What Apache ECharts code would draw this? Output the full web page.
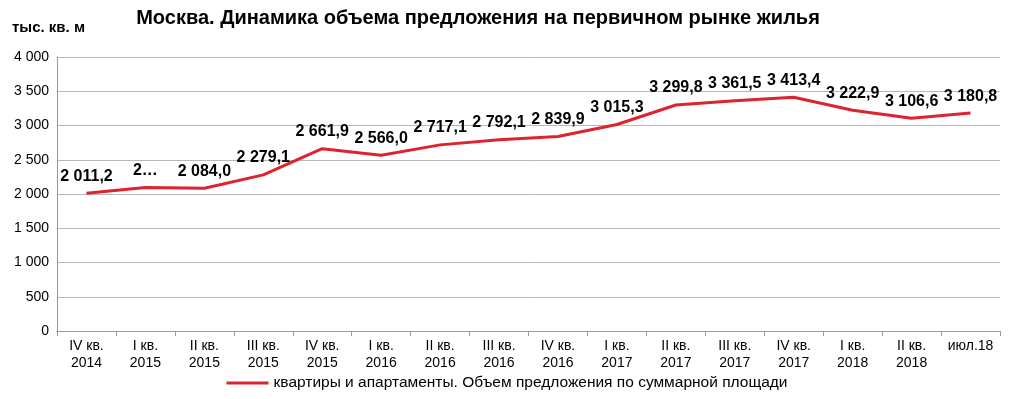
<!DOCTYPE html>
<html lang="ru">
<head>
	<meta charset="UTF-8">
	<title>Москва. Динамика объема предложения</title>
	<script src="https://cdn.jsdelivr.net/npm/echarts@6/dist/echarts.min.js"></script>
	<style>
		html, body { margin: 0; padding: 0; background: #fff; }
	</style>
</head>
<body>
	<div id="chart" style="width:1014px;height:399px;"></div>
<script type="text/javascript">
	// кварталы
	let categories = [
		'IV кв.\n2014', 'I кв.\n2015', 'II кв.\n2015', 'III кв.\n2015', 'IV кв.\n2015',
		'I кв.\n2016', 'II кв.\n2016', 'III кв.\n2016', 'IV кв.\n2016',
		'I кв.\n2017', 'II кв.\n2017', 'III кв.\n2017', 'IV кв.\n2017',
		'I кв.\n2018', 'II кв.\n2018', 'июл.18'
	];
	// тыс. кв. м
	let supply = [2011.2, 2095.0, 2084.0, 2279.1, 2661.9, 2566.0, 2717.1, 2792.1, 2839.9,
		3015.3, 3299.8, 3361.5, 3413.4, 3222.9, 3106.6, 3180.8];
	// подписи, которые на картинке обрезаны
	let cutLabels = { 1: '2…' };
	let yTicks = [0, 500, 1000, 1500, 2000, 2500, 3000, 3500, 4000];

	function fmt(v, dec) {
		let s = v.toFixed(dec);
		let parts = s.split('.');
		let int = parts[0].replace(/\B(?=(\d{3})+(?!\d))/g, ' ');
		return parts.length > 1 ? int + ',' + parts[1] : int;
	}

	let myChart = echarts.init(document.getElementById('chart'));
	let font = 'Liberation Sans, Arial, sans-serif';
	let red = '#dd2330';

	myChart.setOption({
		animation: false,
		textStyle: { fontFamily: font },
		title: {
			text: 'Москва. Динамика объема предложения на первичном рынке жилья',
			left: 473,
			textAlign: 'center',
			top: 3,
			textStyle: { fontSize: 20, fontWeight: 'bold', color: '#000', fontFamily: font }
		},
		legend: {
			bottom: 3,
			left: 'center',
			itemWidth: 42,
			itemHeight: 3,
			icon: 'rect',
			itemGap: 5,
			textStyle: { fontSize: 15.5, color: '#000', fontFamily: font },
			data: ['квартиры и апартаменты. Объем предложения по суммарной площади']
		},
		grid: { left: 57, right: 14, top: 57, bottom: 68, containLabel: false },
		xAxis: {
			type: 'category',
			data: categories,
			boundaryGap: true,
			axisLine: { lineStyle: { color: '#999' } },
			axisTick: { show: true, length: 5, lineStyle: { color: '#999' } },
			axisLabel: { fontSize: 14, color: '#000', lineHeight: 17, margin: 7, interval: 0, fontFamily: font }
		},
		yAxis: {
			type: 'value',
			min: yTicks[0],
			max: yTicks[yTicks.length - 1],
			interval: 500,
			name: 'тыс. кв. м',
			nameLocation: 'end',
			nameGap: 22,
			nameTextStyle: { fontSize: 15, fontWeight: 'bold', color: '#000', align: 'left', padding: [0, 0, 0, -45], fontFamily: font },
			axisLine: { show: true, lineStyle: { color: '#999' } },
			axisTick: { show: false },
			splitLine: { lineStyle: { color: '#b8b8b8' } },
			axisLabel: { fontSize: 14, color: '#000', margin: 8, fontFamily: font,
				formatter: function (v) { return fmt(v, 0); } }
		},
		series: [{
			name: 'квартиры и апартаменты. Объем предложения по суммарной площади',
			type: 'line',
			data: supply,
			symbol: 'circle',
			symbolSize: 0,
			showSymbol: true,
			lineStyle: { color: red, width: 3 },
			itemStyle: { color: red },
			labelLayout: { hideOverlap: false },
			label: {
				show: true,
				position: 'top',
				distance: 9,
				offset: [3, 0],
				fontSize: 16,
				fontWeight: 'bold',
				color: '#000',
				fontFamily: font,
				formatter: function (p) {
					if (cutLabels[p.dataIndex]) return cutLabels[p.dataIndex];
					return fmt(p.value, 1);
				}
			}
		}]
	});
</script>
</body>
</html>
